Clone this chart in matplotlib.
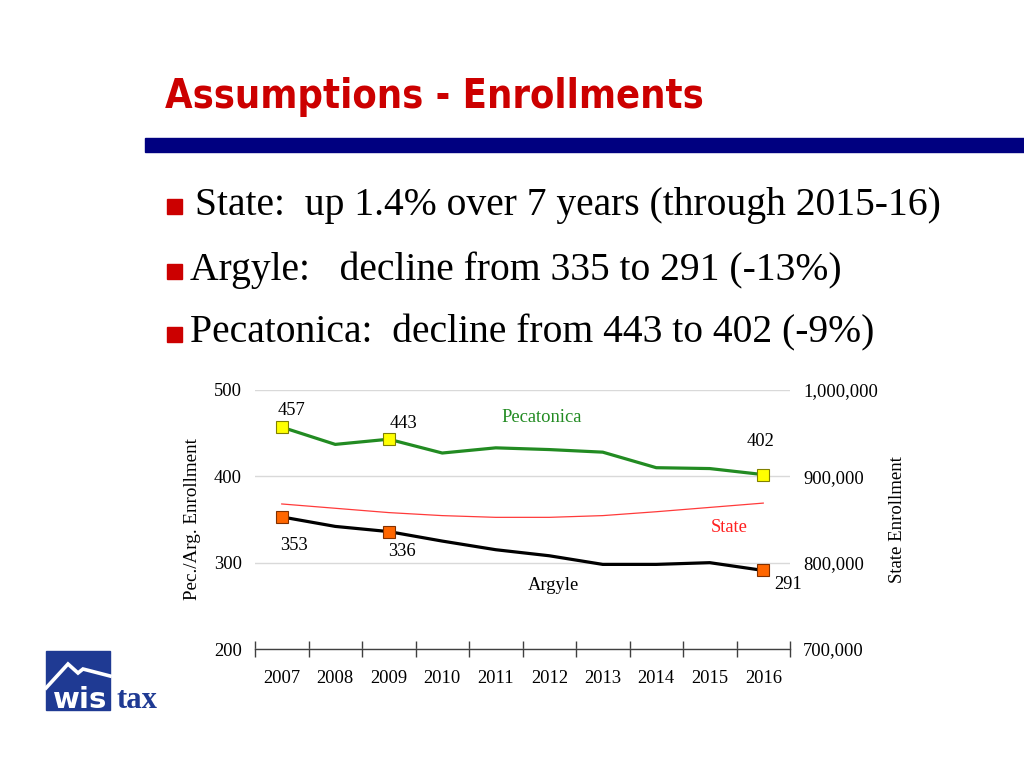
import matplotlib
matplotlib.use("Agg")
import matplotlib.pyplot as plt
from matplotlib.patches import Rectangle
from matplotlib.ticker import FuncFormatter, FixedLocator

years = ["2007", "2008", "2009", "2010", "2011", "2012", "2013", "2014", "2015", "2016"]
pecatonica = [457, 437, 443, 427, 433, 431, 428, 410, 409, 402]
argyle = [353, 342, 336, 325, 315, 308, 298, 298, 300, 291]
state = [868000, 863000, 858000, 854500, 852500, 852500, 854500, 859000, 864000, 869000]
marked_idx = [0, 2, 9]
pec_labels = ["457", "443", "402"]
arg_labels = ["353", "336", "291"]

serif = ["Liberation Serif", "DejaVu Serif"]
FS = 13.3

fig = plt.figure(figsize=(10.24, 7.68), dpi=100)
W, H = 1024, 768

def fx(px):
    return px / W

def fy(py):
    return 1 - py / H

# Title
fig.text(fx(165), fy(97), "Assumptions - Enrollments", color="#CC0000",
         fontsize=28.5, fontweight="bold", family="DejaVu Sans", va="center", ha="left",
         fontstretch="condensed")
# Blue bar
fig.patches.append(Rectangle((fx(145), fy(152)), fx(1024 - 145), 14 / H,
                             transform=fig.transFigure, color="#000080", zorder=1))

# Bullets
bullets = [("State:  up 1.4% over 7 years (through 2015-16)", 205, 195),
           ("Argyle:   decline from 335 to 291 (-13%)", 270, 190),
           ("Pecatonica:  decline from 443 to 402 (-9%)", 333, 190)]
for txt, y, x0 in bullets:
    fig.patches.append(Rectangle((fx(167), fy(y + 9)), 15 / W, 15 / H,
                                 transform=fig.transFigure, color="#CC0000"))
    fig.text(fx(x0), fy(y), txt, fontsize=28.5, family=serif, va="center", ha="left",
             color="black")

# Chart
ax = fig.add_axes([fx(255), fy(649), fx(790 - 255), (649 - 390) / H])
x = list(range(len(years)))
ax.plot(x, pecatonica, color="#228B22", lw=2.3, zorder=3)
ax.plot(x, argyle, color="black", lw=2.3, zorder=3)
ax.plot([x[i] for i in marked_idx], [pecatonica[i] for i in marked_idx], ls="none",
        marker="s", ms=8.5, mfc="#FFFF00", mec="#808000", mew=0.8, zorder=5)
ax.plot([x[i] for i in marked_idx], [argyle[i] for i in marked_idx], ls="none",
        marker="s", ms=8.5, mfc="#FF6600", mec="#803000", mew=0.8, zorder=5)

ax.set_xlim(-0.5, len(years) - 0.5)
ax.set_ylim(200, 500)
ax.set_yticks([200, 300, 400, 500])
ax.grid(axis="y", color="#D9D9D9", lw=1)
ax.set_axisbelow(True)
for s in ["top", "left", "right"]:
    ax.spines[s].set_visible(False)
ax.spines["bottom"].set_color("#404040")
ax.spines["bottom"].set_linewidth(1)

ax.xaxis.set_major_locator(FixedLocator([i - 0.5 for i in range(len(years) + 1)]))
ax.xaxis.set_major_formatter(FuncFormatter(lambda v, p: ""))
ax.xaxis.set_minor_locator(FixedLocator(x))
ax.set_xticklabels(years, minor=True)
ax.tick_params(axis="x", which="major", direction="inout", length=11, color="#404040", width=1)
ax.tick_params(axis="x", which="minor", length=0, pad=15, labelsize=FS)
ax.tick_params(axis="y", length=0, pad=9.4, labelsize=FS)
for lab in ax.get_xticklabels(minor=True) + ax.get_yticklabels():
    lab.set_family(serif)

ax.set_ylabel("Pec./Arg. Enrollment", family=serif, fontsize=13.7, labelpad=9)

ax2 = ax.twinx()
ax2.plot(x, state, color="#FF3B3B", lw=0.9, zorder=2)
ax2.set_ylim(700000, 1000000)
ax2.set_yticks([700000, 800000, 900000, 1000000])
ax2.yaxis.set_major_formatter(FuncFormatter(lambda v, p: f"{int(v):,}"))
ax2.tick_params(axis="y", length=0, pad=9.4, labelsize=FS)
for lab in ax2.get_yticklabels():
    lab.set_family(serif)
for s in ["top", "left", "right", "bottom"]:
    ax2.spines[s].set_visible(False)
ax2.set_ylabel("State Enrollment", family=serif, fontsize=13.5, labelpad=8)
ax.set_zorder(ax2.get_zorder() + 1)
ax.patch.set_visible(False)

pec_off = [(10, 17), (15, 16), (-3, 33)]
arg_off = [(12, -29), (13, -20), (25, -14)]
for k, i in enumerate(marked_idx):
    ax.annotate(pec_labels[k], (x[i], pecatonica[i]), xytext=pec_off[k],
                textcoords="offset pixels", ha="center", va="center",
                fontsize=FS, family=serif)
    ax.annotate(arg_labels[k], (x[i], argyle[i]), xytext=arg_off[k],
                textcoords="offset pixels", ha="center", va="center",
                fontsize=FS, family=serif)

ax.text(4.86, 468.7, "Pecatonica", color="#228B22", fontsize=FS, family=serif,
        ha="center", va="center")
ax.text(8.36, 341.3, "State", color="#FF2020", fontsize=FS, family=serif,
        ha="center", va="center")
ax.text(5.07, 274, "Argyle", color="black", fontsize=FS, family=serif,
        ha="center", va="center")

# Logo
fig.patches.append(Rectangle((fx(46), fy(710)), 64 / W, 59 / H,
                             transform=fig.transFigure, color="#1F3A93", zorder=2))
mountain = [(46, 688), (68, 664), (78, 673), (83, 669), (110, 676)]
xs = [fx(p[0]) for p in mountain]
ys = [fy(p[1]) for p in mountain]
fig.lines.append(plt.Line2D(xs, ys, transform=fig.transFigure, color="white", lw=2.6,
                            zorder=3, solid_joinstyle="miter"))
fig.text(fx(80), fy(700), "wis", color="white", fontsize=21, fontweight="bold",
         family="DejaVu Sans", ha="center", va="center", zorder=4)
fig.text(fx(137), fy(700), "tax", color="#1F3A93", fontsize=22, fontweight="bold",
         family=serif, ha="center", va="center", zorder=4)

fig.savefig("out.png", dpi=100)
